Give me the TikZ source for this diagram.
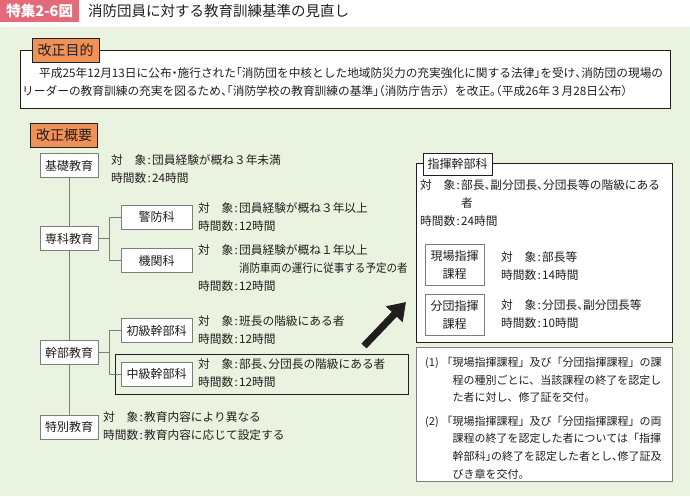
\documentclass[tikz,border=0pt]{standalone}
\usepackage{fontspec}
\usepackage{graphicx}
\setmainfont{Noto Sans CJK JP}
\usetikzlibrary{arrows.meta}
\definecolor{bggreen}{RGB}{234,243,224}
\definecolor{titlepink}{RGB}{228,106,122}
\definecolor{labelorange}{RGB}{240,146,88}
\definecolor{darkline}{RGB}{35,30,30}
\definecolor{treegray}{RGB}{125,125,125}
\definecolor{txt}{RGB}{35,30,30}
\newcommand\TS{\makebox[3em]{対\hfill 象}\makebox[.5em]{:}}
\newcommand\JK{\makebox[3em]{時間数}\makebox[.5em]{:}}
\newcommand\ob{\makebox[.5em][r]{「}}
\newcommand\cb{\makebox[.5em][l]{」}}
\newcommand\tc{\makebox[.5em][l]{、}}
\newcommand\tm{\makebox[.5em][l]{。}}
\newcommand\op{\makebox[.5em][r]{（}}
\newcommand\cp{\makebox[.5em][l]{）}}
\newcommand\nk{\makebox[.5em]{・}}
\tikzset{
  lab/.style={draw=darkline, line width=1pt, fill=labelorange, minimum width=67pt, minimum height=24pt, inner sep=0pt, text=txt, font=\fontsize{14}{16}\selectfont},
  tbox/.style={draw=treegray, line width=0.8pt, fill=white, minimum width=58pt, minimum height=24pt, inner sep=0pt, text=txt, font=\fontsize{12}{14}\selectfont},
  sbox/.style={tbox, minimum width=71pt},
  cbox/.style={tbox, minimum width=59pt, minimum height=41pt, align=center, font=\fontsize{12}{18}\selectfont},
  tline/.style={draw=treegray, line width=0.8pt},
  frame/.style={draw=darkline, line width=1.2pt, inner sep=0pt, anchor=north west},
  info/.style={anchor=west, inner sep=0pt, align=left, text=txt, font=\fontsize{11.7}{18}\selectfont},
  para/.style={anchor=west, inner sep=0pt, text=txt, font=\fontsize{11.7}{18}\selectfont},
  notetext/.style={anchor=west, inner sep=0pt, align=left, text=txt, font=\fontsize{11}{17.6}\selectfont},
  bigarrow/.style={draw=darkline, line width=7pt, -{Triangle[width=22pt,length=17pt]}}
}
\begin{document}
\begin{tikzpicture}[x=1pt,y=-1pt]
\useasboundingbox (0,0) rectangle (690,496);
\fill[bggreen] (0,27) rectangle (690,496);
% title
\node[fill=titlepink, minimum width=79pt, minimum height=22pt, anchor=north west, inner sep=0pt, text=white, font=\fontsize{14.5}{16}\selectfont\bfseries] (tag) at (0,0) {特集2-6図};
\node[anchor=west, inner sep=0pt, text=txt, font=\fontsize{14.5}{16}\selectfont] (title) at (88,11) {消防団員に対する教育訓練基準の見直し};
% purpose
\node[frame, fill=white, minimum width=650pt, minimum height=58pt] (purpose) at (20,50) {};
\node[lab] (purposelabel) at (65.5,50) {改正目的};
\node[para] (p1) at (39,73) {平成25年12月13日に公布\nk 施行された\ob 消防団を中核とした地域防災力の充実強化に関する法律\cb を受け\tc 消防団の現場の};
\node[para] (p2) at (22,91) {リーダーの教育訓練の充実を図るため\tc\ob 消防学校の教育訓練の基準\cb\op 消防庁告示）を改正\tm\op 平成26年３月28日公布\cp};
% overview
\node[lab] (overview) at (64,135) {改正概要};
\node[tbox] (kiso) at (69,165.5) {基礎教育};
\node[tbox] (senka) at (69,238.5) {専科教育};
\node[tbox] (kanbu) at (69,352.5) {幹部教育};
\node[tbox] (toku) at (69,427) {特別教育};
\node[sbox] (keibo) at (156.5,217) {警防科};
\node[sbox] (kikan) at (156.5,260.5) {機関科};
\node[sbox] (shokyu) at (156.5,330.5) {初級幹部科};
\node[sbox] (chukyu) at (156.5,374) {中級幹部科};
\node[frame, minimum width=293pt, minimum height=40pt] (chukyuframe) at (115,354) {};
\draw[tline] (kiso.south) -- (senka.north);
\draw[tline] (senka.south) -- (kanbu.north);
\draw[tline] (kanbu.south) -- (toku.north);
\draw[tline] (senka.east) -- ++(11,0) coordinate (sj);
\draw[tline] (keibo.west) -| (sj) |- (kikan.west);
\draw[tline] (kanbu.east) -- ++(11,0) coordinate (kj);
\draw[tline] (shokyu.west) -| (kj) |- (chukyu.west);
\node[info] (kisoinfo) at (111,169) {\TS 団員経験が概ね３年未満\\\JK 24時間};
\node[info] (keiboinfo) at (198,217) {\TS 団員経験が概ね３年以上\\\JK 12時間};
\node[info] (kikaninfo) at (198,268.5) {\TS 団員経験が概ね１年以上\\\hphantom{\TS}\scalebox{0.9}[1]{消防車両の運行に従事する予定の者}\\\JK 12時間};
\node[info] (shokyuinfo) at (198,330.5) {\TS 班長の階級にある者\\\JK 12時間};
\node[info] (chukyuinfo) at (198,373) {\TS 部長\tc 分団長の階級にある者\\\JK 12時間};
\node[info] (tokuinfo) at (103,426) {\TS 教育内容により異なる\\\JK 教育内容に応じて設定する};
% right block
\node[frame, fill=white, minimum width=256pt, minimum height=179pt] (shiki) at (416,163) {};
\node[draw=darkline, line width=1pt, fill=white, minimum width=69pt, minimum height=22pt, inner sep=0pt, text=txt, font=\fontsize{12}{14}\selectfont] (shikilabel) at (457.5,164) {指揮幹部科};
\node[info] (shikiinfo) at (420,203.5) {\TS 部長\tc 副分団長\tc 分団長等の階級にある\\\hphantom{\TS}者\\\JK 24時間};
\node[cbox] (genba) at (454.5,264.5) {現場指揮\\課程};
\node[cbox] (bundan) at (454.5,314.5) {分団指揮\\課程};
\node[info] (genbainfo) at (501,266) {\TS 部長等\\\JK 14時間};
\node[info] (bundaninfo) at (501,314) {\TS 分団長\tc 副分団長等\\\JK 10時間};
% notes
\node[draw=treegray, line width=0.8pt, fill=white, inner sep=0pt, anchor=north west, minimum width=256pt, minimum height=134pt] (notes) at (416,347) {};
\node[notetext] (note1) at (425,380) {\makebox[1.5em][l]{(1)}「現場指揮課程」及び「分団指揮課程」の課\\\hspace*{2.5em}程の種別ごとに、当該課程の終了を認定し\\\hspace*{2.5em}た者に対し、修了証を交付。};
\node[notetext] (note2) at (425,447.5) {\makebox[1.5em][l]{(2)}「現場指揮課程」及び「分団指揮課程」の両\\\hspace*{2.5em}課程の終了を認定した者については「指揮\\\hspace*{2.5em}幹部科\cb の終了を認定した者とし\tc 修了証及\\\hspace*{2.5em}びき章を交付。};
% arrow
\coordinate (arrowtail) at (364,346);
\coordinate (arrowtip) at (406,302);
\draw[bigarrow] (arrowtail) -- (arrowtip);
\end{tikzpicture}
\end{document}
